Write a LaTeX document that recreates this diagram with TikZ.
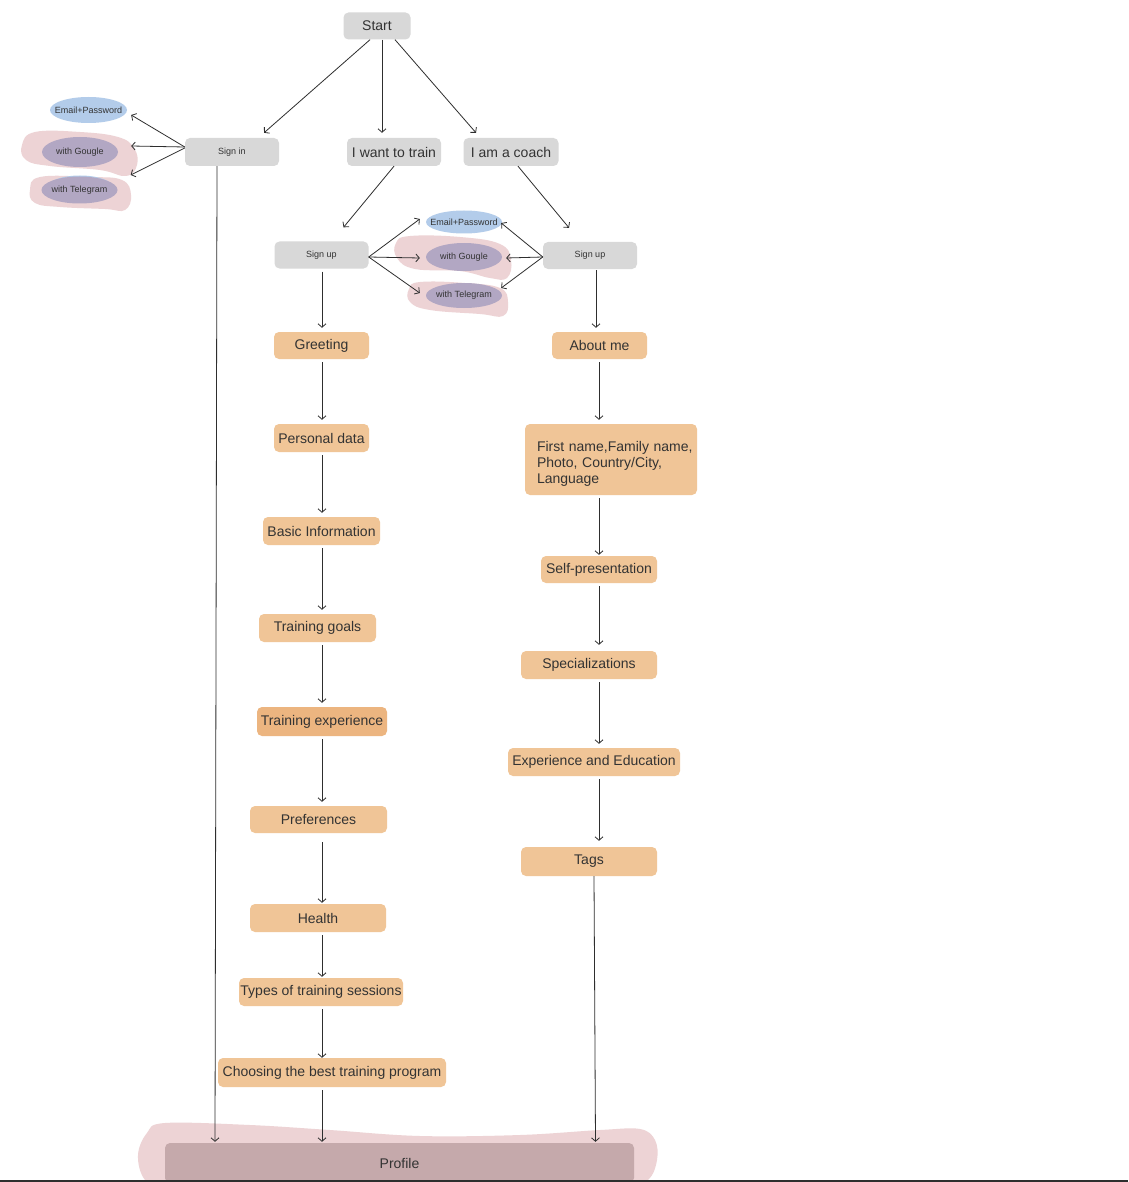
\documentclass[tikz,border=0pt]{standalone}
\usepackage{fontspec}
\setmainfont{Liberation Sans}
\usetikzlibrary{arrows.meta,shapes.geometric}
\definecolor{boxgray}{HTML}{D8D8D8}
\definecolor{orng}{HTML}{F0C597}
\definecolor{orngdark}{HTML}{ECB580}
\definecolor{elblue}{HTML}{B3CCEA}
\definecolor{elpurp}{HTML}{B2A7C3}
\definecolor{blob}{HTML}{EDD3D5}
\definecolor{prof}{HTML}{C5A9AB}
\definecolor{txt}{HTML}{333333}
\definecolor{linec}{HTML}{2E2E2E}
\begin{document}
\begin{tikzpicture}[x=1pt,y=-1pt,
  graybox/.style={fill=boxgray, rounded corners=5pt, inner sep=0pt, text=txt},
  obox/.style={fill=orng, rounded corners=5pt, inner sep=0pt, text=txt, minimum height=28, font=\fontsize{14}{16}\selectfont},
  ell/.style={ellipse, inner xsep=-8pt, inner ysep=0pt, text=txt, font=\fontsize{9}{10}\selectfont},
  big/.style={font=\fontsize{14}{16}\selectfont},
  small/.style={font=\fontsize{9}{10}\selectfont},
  arr/.style={draw=linec, line width=0.8pt, -{Straight Barb[length=3.5pt,width=8pt]}},
  varr/.style={arr, shorten >=4pt, shorten <=3pt}
]
\fill[white] (0,0) rectangle (1128,1182);
\useasboundingbox (0,0) rectangle (1128,1182);

% pink blobs
\fill[blob] plot[smooth cycle, tension=0.7] coordinates {(35,132) (80,132) (118,137) (134,148) (137,165) (126,176) (100,170) (50,166) (26,160) (22,145)};
\fill[blob] plot[smooth cycle, tension=0.7] coordinates {(40,177) (90,177) (122,180) (131,195) (125,210) (105,209) (60,207) (35,203) (30,190)};
\fill[blob] plot[smooth cycle, tension=0.7] coordinates {(410,236) (460,237) (500,244) (511,260) (507,278) (490,278) (460,271) (415,269) (397,258) (396,243)};
\fill[blob] plot[smooth cycle, tension=0.7] coordinates {(420,282) (465,283) (500,288) (508,302) (503,316) (480,314) (430,310) (410,302) (409,289)};
\fill[blob] plot[smooth cycle, tension=0.6] coordinates {(165,1123) (250,1125) (330,1130) (420,1136) (520,1135) (600,1130) (640,1129) (655,1140) (657,1160) (648,1180) (620,1195) (170,1195) (145,1180) (138,1155) (147,1133)};

% top nodes
\node[graybox, big, minimum width=67, minimum height=27] (start) at (377,26) {Start};
\node[graybox, small, minimum width=94, minimum height=28] (signin) at (232,152) {Sign in};
\node[graybox, big, minimum width=94, minimum height=28] (train) at (394,152) {I want to train};
\node[graybox, big, minimum width=95, minimum height=28] (coach) at (511,152) {I am a coach};

% left ellipses
\node[ell, fill=elblue, minimum width=77, minimum height=26] (le) at (88.5,110) {Email+Password};
\node[ell, fill=elpurp, minimum width=76, minimum height=30] (lg) at (80,152) {with Gougle};
\fill[elblue] (80,187.5) ellipse [x radius=33, y radius=12];
\node[ell, fill=elpurp, minimum width=76, minimum height=27] (lt) at (79.5,190) {with Telegram};

% sign up nodes
\node[graybox, small, minimum width=94, minimum height=27] (sul) at (321.5,255) {Sign up};
\node[graybox, small, minimum width=94, minimum height=27] (sur) at (590,255.5) {Sign up};

% middle ellipses
\node[ell, fill=elblue, minimum width=76, minimum height=23] (me) at (464,222) {Email+Password};
\node[ell, fill=elpurp, minimum width=76, minimum height=28] (mg) at (464,257) {with Gougle};
\node[ell, fill=elpurp, minimum width=76, minimum height=25] (mt) at (464,295.5) {with Telegram};

% left column
\node[obox, minimum width=95, minimum height=27] (greet) at (321.5,345.5) {Greeting};
\node[obox, minimum width=95] (pers) at (321.5,438) {Personal data};
\node[obox, minimum width=117] (basic) at (321.5,531) {Basic Information};
\node[obox, minimum width=117] (goals) at (317.5,628) {Training goals};
\node[obox, fill=orngdark, minimum width=130, minimum height=29] (texp) at (322,721.5) {Training experience};
\node[obox, minimum width=137, minimum height=27] (pref) at (318.5,819.5) {Preferences};
\node[obox, minimum width=136] (health) at (318,918) {Health};
\node[obox, minimum width=164] (types) at (321,992) {Types of training sessions};
\node[obox, minimum width=228, minimum height=29] (choose) at (332,1072.5) {Choosing the best training program};

% right column
\node[obox, minimum width=172, minimum height=27] (about) at (599.5,345.5) [minimum width=95] {About me};
\node[obox, minimum width=172, minimum height=71, text width=172, align=left] (fname) at (611,459.5) {\hspace*{12pt}\rule{0pt}{19pt}First name,Family name,\\\hspace*{12pt}Photo, Country/City,\\\hspace*{12pt}Language};
\node[obox, minimum width=116, minimum height=27] (selfp) at (599,569.5) {Self-presentation};
\node[obox, minimum width=136] (spec) at (589,665) {Specializations};
\node[obox, minimum width=172] (expedu) at (594,762) {Experience and Education};
\node[obox, minimum width=136, minimum height=29] (tags) at (589,861.5) {Tags};

% profile
\node[fill=prof, rounded corners=5pt, minimum width=469, minimum height=40, inner sep=0pt, text=txt, font=\fontsize{14}{16}\selectfont] (profile) at (399.5,1163) {Profile};

\coordinate (colL) at (322,0);
\coordinate (colR) at (599,0);

% start arrows
\draw[arr] ([xshift=-7]start.south) -- ([xshift=32,yshift=5]signin.north);
\draw[arr] ([xshift=5]start.south) -- ([xshift=-12,yshift=5]train.north);
\draw[arr] ([xshift=18]start.south) -- ([xshift=-35,yshift=5]coach.north);

% sign in fan
\draw[arr] ([yshift=5]signin.west) -- ([xshift=4,yshift=-5]le.east);
\draw[arr] ([yshift=5]signin.west) -- ([xshift=13,yshift=6]lg.east);
\draw[arr] ([yshift=4]signin.west) -- ([xshift=13,yshift=15]lt.east);

% to sign up
\draw[arr] (train.south) -- ([xshift=22,yshift=14]sul.north);
\draw[arr] ([xshift=7]coach.south) -- ([xshift=-21,yshift=14]sur.north);

% sign up fans
\draw[arr] ([yshift=-2]sul.east) -- ([xshift=-6,yshift=3]me.west);
\draw[arr] ([yshift=-2]sul.east) -- ([xshift=-6,yshift=-1]mg.west);
\draw[arr] ([yshift=-2]sul.east) -- ([xshift=-6,yshift=2.5]mt.west);
\draw[arr] ([yshift=-1.5]sur.west) -- ([xshift=-1,yshift=-1]me.east);
\draw[arr] ([yshift=-1.5]sur.west) -- ([xshift=4,yshift=-1]mg.east);
\draw[arr] ([yshift=-1.5]sur.west) -- ([xshift=-1,yshift=7.5]mt.east);

% left column arrows
\draw[varr] (sul.south -| colL) -- (greet.north -| colL);
\draw[varr] (greet.south -| colL) -- (pers.north -| colL);
\draw[varr] (pers.south -| colL) -- (basic.north -| colL);
\draw[varr] (basic.south -| colL) -- (goals.north -| colL);
\draw[varr] (goals.south -| colL) -- (texp.north -| colL);
\draw[varr] (texp.south -| colL) -- (pref.north -| colL);
\draw[varr, shorten <=9pt, shorten >=1pt] (pref.south -| colL) -- (health.north -| colL);
\draw[varr, shorten >=1pt] (health.south -| colL) -- (types.north -| colL);
\draw[varr, shorten >=0pt] (types.south -| colL) -- (choose.north -| colL);
\draw[varr, shorten >=1pt] (choose.south -| colL) -- (profile.north -| colL);

% right column arrows
\draw[varr, shorten <=1pt] ([xshift=6]sur.south) -- ([xshift=-3.5]about.north);
\draw[varr] (about.south -| colR) -- (fname.north -| colR);
\draw[varr, shorten >=1pt] (fname.south -| colR) -- (selfp.north -| colR);
\draw[varr, shorten >=6pt] (selfp.south -| colR) -- (spec.north -| colR);
\draw[varr] (spec.south -| colR) -- (expedu.north -| colR);
\draw[varr, shorten >=6pt] (expedu.south -| colR) -- (tags.north -| colR);

% long connectors to profile
\draw[arr, shorten >=1pt] ([xshift=-15]signin.south) -- ([xshift=-184.5]profile.north);
\draw[arr, shorten >=1pt] ([xshift=5]tags.south) -- ([xshift=196]profile.north);

% bottom rule
\fill[linec] (0,1179.5) rectangle (1128,1182);
\end{tikzpicture}
\end{document}
